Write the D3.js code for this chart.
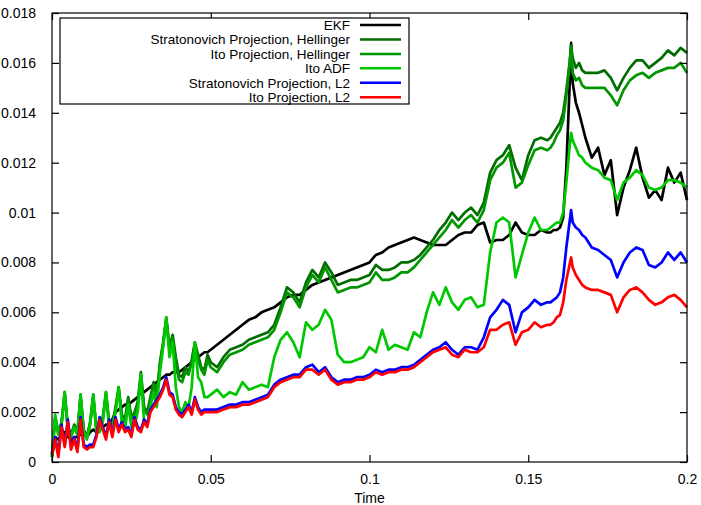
<!DOCTYPE html>
<html>
<head>
<meta charset="utf-8">
<script src="https://cdn.jsdelivr.net/npm/d3@7"></script>
<style>
  html, body { margin: 0; padding: 0; background: #fff; }
  svg { display: block; font-family: "Liberation Sans", Arial, sans-serif; }
</style>
</head>
<body>
<svg id="chart" width="701" height="505"></svg>
<script>
// sample times (irregular grid, finer where the curves move fast)
const time = [
  0, .001, .002, .003, .004, .005, .006, .007, .008, .009,
  .010, .011, .012, .013, .014, .015, .016, .017, .018, .019,
  .020, .021, .022, .023, .024, .025, .026, .027, .028, .029,
  .030, .031, .032, .033, .034, .035, .036, .037, .038, .039,
  .040, .041, .042, .043, .044, .045, .046, .047, .048, .049,
  .050,
  .052, .054, .056, .058, .060, .062, .064, .066, .068, .070,
  .072, .074, .076, .078, .080, .082, .084, .086, .088, .090,
  .092, .094, .096, .098, .100, .102, .104, .106, .108, .110,
  .112, .114, .116, .118, .120, .122, .124, .126, .128, .130,
  .132, .134, .136, .138, .140, .142, .144, .146, .148, .150,
  .152, .154, .156,
  .157, .158, .159, .160, .161, .162, .163, .1635, .164, .165, .166, .167, .168,
  .170, .172, .174, .176, .178, .180, .182, .184, .186, .188, .190, .192, .194, .196, .198, .200
];

// values in units of 1e-3
const ekf = [
  0.2, 1.0, 0.9, 1.1, 1.2, 1.0, 0.9, 1.0, 1.0, 1.1,
  1.1, 1.0, 1.2, 1.3, 1.2, 1.3, 1.4, 1.5, 1.5, 1.7,
  2.0, 2.1, 2.2, 2.3, 2.3, 2.4, 2.5, 2.6, 2.8, 2.8,
  2.9, 3.0, 3.1, 3.2, 3.3, 3.4, 3.5, 3.5, 3.6, 3.6,
  3.6, 3.7, 3.8, 3.9, 4.0, 4.1, 4.2, 4.3, 4.4, 4.4,
  4.5,
  4.7, 4.9, 5.1, 5.3, 5.5, 5.7, 5.8, 6.0, 6.1, 6.2,
  6.4, 6.6, 6.7, 6.7, 6.9, 7.1, 7.2, 7.3, 7.4, 7.5,
  7.6, 7.7, 7.8, 7.9, 8.0, 8.3, 8.4, 8.6, 8.7, 8.8,
  8.9, 9.0, 8.9, 8.8, 8.7, 8.7, 8.7, 8.9, 9.1, 9.2,
  9.2, 9.5, 9.6, 8.8, 8.9, 8.9, 9.1, 9.6, 9.2, 9.1,
  9.1, 9.3, 9.2,
  9.2, 9.3, 9.3, 9.4, 9.8, 11.8, 15.0, 16.8, 15.2, 14.4, 14.0, 13.5, 13.0,
  12.2, 12.6, 11.5, 12.1, 9.9, 11.0, 11.7, 12.6, 11.4, 10.6, 10.9, 10.5, 11.8, 11.2, 11.6, 10.5
];

const stratHell = [
  0.3, 1.8, 1.2, 1.6, 2.8, 1.4, 1.1, 1.5, 1.2, 2.7,
  1.3, 1.0, 1.6, 2.7, 1.3, 1.4, 1.8, 2.8, 1.6, 1.5,
  2.2, 3.0, 1.9, 1.7, 2.6, 1.8, 2.0, 2.4, 3.6, 2.2,
  2.0, 2.6, 3.2, 2.7, 4.0, 4.8, 5.8, 4.6, 5.1, 4.2,
  3.5, 3.4, 3.8, 3.6, 4.1, 4.8, 4.3, 3.8, 3.7, 4.3,
  4.0,
  3.8, 4.2, 4.5, 4.6, 4.7, 4.9, 5.0, 5.1, 5.2, 5.5,
  6.2, 7.0, 6.8, 6.4, 7.2, 7.7, 7.4, 8.0, 7.6, 7.1,
  7.2, 7.3, 7.3, 7.4, 7.5, 7.9, 7.7, 7.7, 7.8, 8.0,
  8.0, 8.1, 8.3, 8.6, 8.9, 9.3, 9.6, 10.0, 9.7, 10.0,
  10.2, 9.9, 10.4, 11.6, 12.1, 12.3, 12.7, 11.8, 11.3, 12.3,
  12.9, 13.0, 12.9,
  13.0, 13.2, 13.4, 13.6, 14.0, 14.9, 16.0, 16.7, 16.2, 15.8, 16.0, 15.7, 15.6,
  15.6, 15.6, 15.7, 15.4, 14.9, 15.4, 15.8, 16.1, 16.1, 15.8, 16.0, 16.2, 16.5, 16.3, 16.6, 16.4
];

const itoHell = [
  0.3, 1.7, 1.1, 1.5, 2.7, 1.3, 1.0, 1.4, 1.1, 2.6,
  1.2, 1.0, 1.5, 2.6, 1.2, 1.3, 1.7, 2.7, 1.5, 1.4,
  2.1, 2.9, 1.8, 1.6, 2.5, 1.7, 1.9, 2.3, 3.5, 2.1,
  1.9, 2.5, 3.1, 2.6, 3.9, 4.7, 5.7, 4.5, 5.0, 4.0,
  3.3, 3.2, 3.6, 3.5, 4.0, 4.7, 4.1, 3.7, 3.5, 4.1,
  3.8,
  3.6, 4.0, 4.3, 4.4, 4.5, 4.7, 4.8, 4.9, 5.0, 5.3,
  6.0, 6.8, 6.6, 6.2, 7.0, 7.5, 7.2, 7.8, 7.3, 6.8,
  6.9, 7.0, 7.0, 7.1, 7.2, 7.6, 7.3, 7.3, 7.4, 7.6,
  7.6, 7.8, 8.1, 8.4, 8.7, 9.0, 9.3, 9.7, 9.4, 9.7,
  9.9, 9.6, 10.1, 11.3, 11.8, 12.0, 12.4, 11.0, 11.2, 11.9,
  12.5, 12.6, 12.5,
  12.6, 12.8, 13.1, 13.3, 13.7, 14.7, 15.9, 16.6, 15.6, 15.3, 15.4, 15.1, 15.0,
  15.0, 15.0, 15.0, 14.7, 14.3, 14.9, 15.3, 15.5, 15.6, 15.4, 15.6, 15.7, 15.8, 15.8, 16.0, 15.6
];

const itoADF = [
  0.2, 1.9, 1.1, 1.5, 2.8, 1.3, 1.0, 1.4, 1.1, 2.7,
  1.2, 0.9, 1.5, 2.7, 1.2, 1.2, 1.6, 2.8, 1.4, 1.3,
  2.0, 3.0, 1.5, 1.3, 2.3, 1.4, 1.5, 2.0, 3.5, 1.6,
  1.5, 2.2, 2.8, 2.2, 3.6, 4.6, 5.8, 4.2, 4.8, 3.0,
  2.2, 2.0, 2.4, 2.2, 3.0, 4.8, 3.4, 3.2, 2.6, 2.6,
  2.7,
  2.9, 2.6, 2.8, 2.7, 3.2, 2.9, 3.0, 3.1, 3.0, 4.2,
  4.9, 5.2, 4.8, 4.2, 5.6, 5.3, 5.5, 6.1, 5.7, 4.3,
  4.0, 4.0, 4.1, 4.2, 4.6, 4.4, 5.3, 4.5, 4.7, 4.6,
  4.5, 5.2, 5.0, 6.0, 6.8, 6.3, 7.0, 6.4, 6.1, 6.5,
  6.6, 6.2, 6.3, 8.4, 9.6, 9.8, 9.6, 7.4, 8.3, 9.2,
  9.8, 9.3, 9.3,
  9.4, 9.5, 9.6, 9.6, 10.0, 11.2, 12.6, 13.2, 12.9, 12.6, 12.3, 12.2, 12.0,
  11.8, 11.7, 11.4, 11.3, 10.5, 11.2, 11.4, 11.7, 11.5, 11.0, 10.9, 11.0, 11.3, 11.3, 11.2, 11.0
];

const stratL2 = [
  0.4, 1.0, 0.3, 1.5, 0.7, 1.7, 0.6, 1.0, 0.5, 1.8,
  0.7, 0.6, 0.7, 0.7, 1.1, 1.8, 1.4, 1.0, 1.7, 1.1,
  1.8, 1.3, 1.6, 1.3, 1.4, 1.1, 1.8, 1.4, 1.3, 1.7,
  1.5, 2.1, 2.3, 2.5, 2.7, 3.0, 3.4, 2.8, 2.7, 2.2,
  2.0, 1.9, 2.1, 2.3, 2.0, 2.6, 2.2, 2.0, 2.1, 2.1,
  2.1,
  2.1, 2.2, 2.3, 2.3, 2.4, 2.4, 2.5, 2.6, 2.7, 3.1,
  3.3, 3.4, 3.5, 3.5, 3.8, 3.9, 3.6, 3.8, 3.4, 3.2,
  3.3, 3.3, 3.4, 3.4, 3.5, 3.7, 3.6, 3.7, 3.7, 3.8,
  3.8, 3.9, 4.1, 4.3, 4.5, 4.6, 4.8, 4.5, 4.3, 4.6,
  4.6, 4.5, 5.0, 5.8, 6.1, 6.5, 6.3, 5.2, 6.0, 6.2,
  6.5, 6.3, 6.4,
  6.4, 6.5, 6.6, 6.8, 7.4, 8.6, 9.6, 10.1, 9.6, 9.4, 9.3, 9.1, 9.0,
  8.6, 8.5, 8.3, 8.1, 7.4, 8.0, 8.4, 8.6, 8.5, 7.9, 7.8, 8.0, 8.4, 8.1, 8.4, 8.0
];

const itoL2 = [
  0.3, 0.9, 0.2, 1.4, 0.6, 1.6, 0.5, 0.9, 0.4, 1.7,
  0.6, 0.5, 0.6, 0.6, 1.0, 1.7, 1.3, 0.9, 1.6, 1.0,
  1.7, 1.2, 1.5, 1.2, 1.3, 1.0, 1.7, 1.3, 1.2, 1.6,
  1.4, 2.0, 2.2, 2.4, 2.6, 2.9, 3.3, 2.7, 2.6, 2.1,
  1.9, 1.8, 2.0, 2.2, 1.9, 2.5, 2.1, 1.9, 2.0, 2.0,
  2.0,
  2.0, 2.1, 2.2, 2.2, 2.3, 2.3, 2.4, 2.5, 2.6, 3.0,
  3.2, 3.3, 3.4, 3.4, 3.7, 3.7, 3.5, 3.7, 3.3, 3.1,
  3.2, 3.2, 3.3, 3.3, 3.4, 3.6, 3.5, 3.6, 3.6, 3.7,
  3.7, 3.8, 4.0, 4.2, 4.4, 4.5, 4.6, 4.3, 4.2, 4.5,
  4.4, 4.4, 4.6, 5.3, 5.3, 5.5, 5.6, 4.7, 5.2, 5.3,
  5.6, 5.4, 5.5,
  5.5, 5.6, 5.8, 5.9, 6.4, 7.3, 7.9, 8.2, 7.8, 7.5, 7.3, 7.1, 7.0,
  6.9, 6.9, 6.8, 6.7, 6.0, 6.6, 6.9, 7.0, 6.8, 6.5, 6.3, 6.4, 6.6, 6.7, 6.5, 6.2
];

const seriesNames  = ["EKF", "Stratonovich Projection, Hellinger", "Ito Projection, Hellinger",
                      "Ito ADF", "Stratonovich Projection, L2", "Ito Projection, L2"];
const seriesValues = [ekf, stratHell, itoHell, itoADF, stratL2, itoL2];
const seriesColors = ["#000000", "#006e00", "#009600", "#00c800", "#0000ff", "#ff0000"];

const xTicks = [0, 0.05, 0.1, 0.15, 0.2];
const yTicks = [0, 0.002, 0.004, 0.006, 0.008, 0.01, 0.012, 0.014, 0.016, 0.018];
const UNIT = 1e-3;

const svg = d3.select("#chart");
const margin = { top: 13, right: 14, bottom: 43, left: 52 };
const W = 701 - margin.left - margin.right;
const H = 505 - margin.top - margin.bottom;

const x = d3.scaleLinear().domain([0, 0.2]).range([0, W]);
const y = d3.scaleLinear().domain([0, 0.018]).range([H, 0]);

const g = svg.append("g")
  .attr("transform", `translate(${margin.left},${margin.top})`);

// curves, drawn in key order (red ends up on top)
const line = d3.line()
  .defined(d => d[1] != null && !isNaN(d[1]))
  .x(d => x(d[0]))
  .y(d => y(d[1] * UNIT));

seriesValues.forEach((vals, i) => {
  g.append("path")
    .datum(time.map((t, k) => [t, vals[k]]))
    .attr("fill", "none")
    .attr("stroke", seriesColors[i])
    .attr("stroke-width", 2.7)
    .attr("stroke-linejoin", "round")
    .attr("d", line);
});

// frame + inward ticks on all four sides
const tickLen = 7;
g.append("rect")
  .attr("x", 0).attr("y", 0).attr("width", W).attr("height", H)
  .attr("fill", "none").attr("stroke", "#000").attr("stroke-width", 1.2);

const bottomAx = g.append("g").attr("transform", `translate(0,${H})`)
  .call(d3.axisBottom(x).tickValues(xTicks).tickSize(-tickLen).tickPadding(12)
    .tickFormat(d => d3.format("~g")(d)));
const topAx = g.append("g")
  .call(d3.axisTop(x).tickValues(xTicks).tickSize(-tickLen).tickFormat(""));
const leftAx = g.append("g")
  .call(d3.axisLeft(y).tickValues(yTicks).tickSize(-tickLen).tickPadding(16)
    .tickFormat(d => d3.format("~g")(d)));
const rightAx = g.append("g").attr("transform", `translate(${W},0)`)
  .call(d3.axisRight(y).tickValues(yTicks).tickSize(-tickLen).tickFormat(""));

[bottomAx, topAx, leftAx, rightAx].forEach(a => {
  a.select(".domain").remove();
  a.selectAll(".tick line").attr("stroke", "#000").attr("stroke-width", 1.2);
  a.selectAll("text")
    .attr("fill", "#000")
    .style("font-family", "'Liberation Sans', Arial, sans-serif")
    .style("font-size", "14px");
});

g.append("text")
  .attr("x", W / 2).attr("y", H + 41)
  .attr("text-anchor", "middle")
  .style("font-size", "14px")
  .text("Time");

// key
const key = svg.append("g");
key.append("rect")
  .attr("x", 60).attr("y", 18).attr("width", 349).attr("height", 86)
  .attr("fill", "#fff").attr("stroke", "#000").attr("stroke-width", 1.2);

seriesNames.forEach((name, i) => {
  const ry = 25 + i * 14.45;
  key.append("text")
    .attr("x", 350).attr("y", ry).attr("dy", "0.35em")
    .attr("text-anchor", "end")
    .style("font-size", "13.5px")
    .text(name);
  key.append("line")
    .attr("x1", 360).attr("x2", 401)
    .attr("y1", ry).attr("y2", ry)
    .attr("stroke", seriesColors[i]).attr("stroke-width", 2.5);
});
</script>
</body>
</html>
